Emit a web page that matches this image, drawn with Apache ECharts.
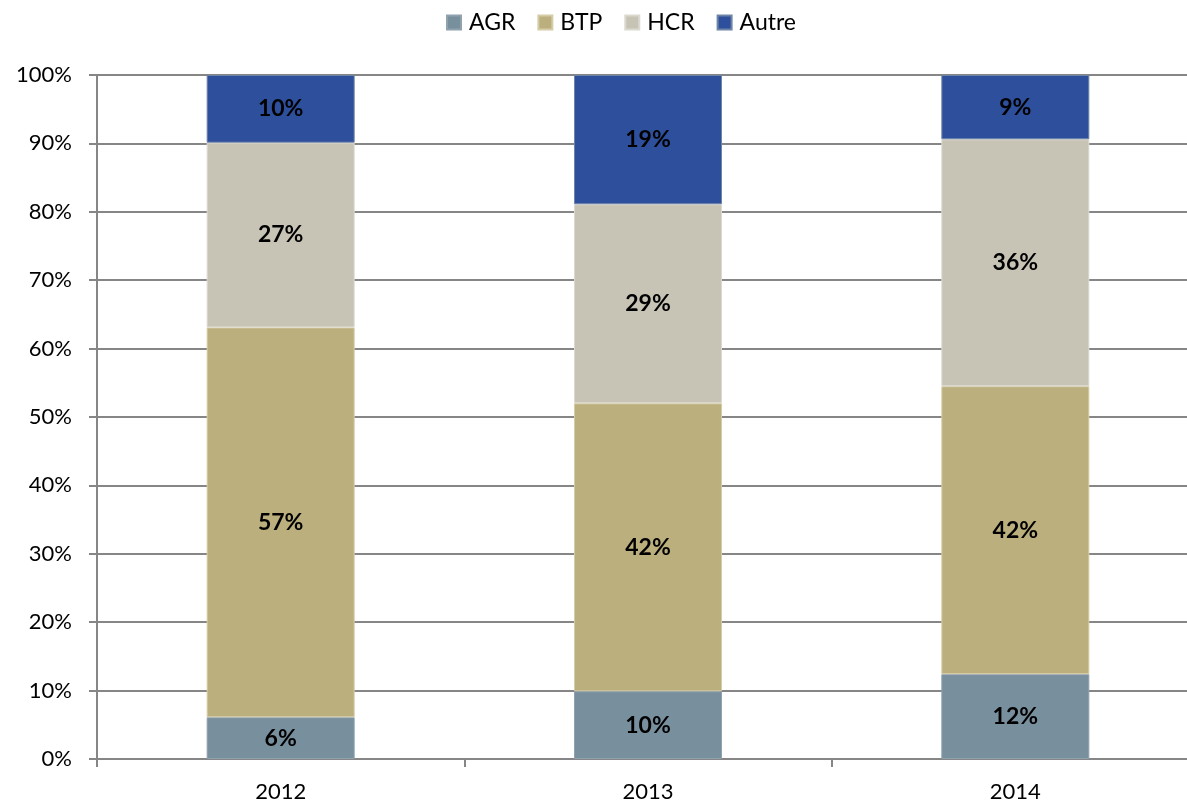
<!DOCTYPE html>
<html><head><meta charset="utf-8">
<script src="https://cdn.jsdelivr.net/npm/echarts@6/dist/echarts.min.js"></script>
<style>html,body{margin:0;padding:0;background:#fff;overflow:hidden}#c{width:1199px;height:805px}</style>
</head><body><div id="c"></div>
<script>
const categories = ['2012', '2013', '2014'];
const seriesNames = ['AGR', 'BTP', 'HCR', 'Autre'];
const AGR = [6.1, 9.9, 12.4];
const BTP = [57.0, 42.1, 42.1];
const HCR = [27.0, 29.1, 36.1];
const Autre = [9.9, 18.9, 9.4];
const yTicks = [0, 10, 20, 30, 40, 50, 60, 70, 80, 90, 100];
const colors = ['#788F9E', '#BCAF7E', '#C7C4B5', '#2E4F9C'];
const borders = ['#8fa2ae', '#d6cca8', '#dcdad0', '#6f85a8'];

const font = 'Lato, "Open Sans", sans-serif';
const data = [AGR, BTP, HCR, Autre];
const chart = echarts.init(document.getElementById('c'), null, {renderer: 'canvas'});
chart.setOption({
  animation: false,
  color: colors,
  legend: {
    top: 6, left: 441,
    itemWidth: 14, itemHeight: 14, itemGap: 22,
    icon: 'rect',
    textStyle: {fontFamily: font, fontSize: 23, color: '#000', padding: [0, 0, 0, 3]},
    data: seriesNames
  },
  grid: {left: 97, top: 75, right: 0, bottom: 46, containLabel: false},
  xAxis: {
    type: 'category', data: categories,
    axisLine: {lineStyle: {color: '#868686', width: 2}},
    axisTick: {show: true, length: 8, lineStyle: {color: '#868686', width: 2}},
    axisLabel: {fontFamily: font, fontSize: 22, color: '#000', margin: 22}
  },
  yAxis: {
    type: 'value', min: 0, max: 100, interval: 10,
    axisLine: {show: true, lineStyle: {color: '#868686', width: 2}},
    axisTick: {show: true, length: 8, lineStyle: {color: '#868686', width: 2}},
    splitLine: {lineStyle: {color: '#868686', width: 2}},
    axisLabel: {fontFamily: font, fontSize: 22, color: '#000', margin: 25,
      formatter: v => yTicks.includes(v) ? v + '%' : ''}
  },
  series: seriesNames.map((n, i) => ({
    name: n, type: 'bar', stack: 'total', barWidth: 148,
    data: data[i],
    itemStyle: {color: colors[i], borderColor: borders[i], borderWidth: 1},
    label: {show: true, position: 'inside', fontFamily: font, fontSize: 23, fontWeight: 'bold', color: '#000',
      formatter: p => Math.round(p.value) + '%'}
  }))
});
</script></body></html>
